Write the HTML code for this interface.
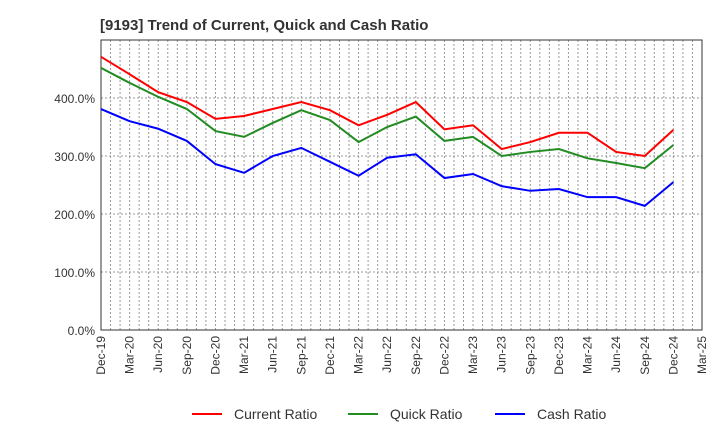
<!DOCTYPE html>
<html><head><meta charset="utf-8"><style>
body{margin:0;background:#fff;font-family:"Liberation Sans",Arial,sans-serif}
svg text{font-family:"Liberation Sans",Arial,sans-serif}
</style></head><body>
<svg id="c" width="720" height="440" viewBox="0 0 720 440">
<text x="100" y="30" font-size="15" font-weight="bold" fill="#333">[9193]  Trend of Current, Quick and Cash Ratio</text>
<g id="grid"></g><g id="axes"></g><g id="lines"></g>
<g>
<g><line x1="192" y1="414" x2="222" y2="414" stroke="#f00" stroke-width="2"/><text x="234" y="419" font-size="14" fill="#333">Current Ratio</text></g>
<g><line x1="348" y1="414" x2="378" y2="414" stroke="#228b22" stroke-width="2"/><text x="390" y="419" font-size="14" fill="#333">Quick Ratio</text></g>
<g><line x1="495" y1="414" x2="525" y2="414" stroke="#00f" stroke-width="2"/><text x="537" y="419" font-size="14" fill="#333">Cash Ratio</text></g>
</g>
</svg>
<script>
const categories=["Dec-19","Mar-20","Jun-20","Sep-20","Dec-20","Mar-21","Jun-21","Sep-21","Dec-21","Mar-22","Jun-22","Sep-22","Dec-22","Mar-23","Jun-23","Sep-23","Dec-23","Mar-24","Jun-24","Sep-24","Dec-24","Mar-25"];
const currentRatio=[471,441,410,393,364,369,381,393,379,353,371,393,346,353,312,324,340,340,307,300,345];
const quickRatio=[452,426,402,381,343,333,357,379,362,324,350,368,326,333,300,307,312,296,288,279,319];
const cashRatio=[381,360,347,326,286,271,300,314,290,266,297,303,262,269,248,240,243,229,229,214,255];
const yTicks=[0,100,200,300,400];
const X0=101,X1=702,Y0=330,PX=0.58,TOP=40;
const step=(X1-X0)/(categories.length-1);
const xs=i=>X0+i*step, ys=v=>Y0-v*PX;
const NS="http://www.w3.org/2000/svg";
function mk(t,a,p){const e=document.createElementNS(NS,t);for(const k in a)e.setAttribute(k,a[k]);p.appendChild(e);return e;}
const grid=document.getElementById('grid'),axes=document.getElementById('axes'),lines=document.getElementById('lines');
for(let m=1;m<(categories.length-1)*3;m++){const x=X0+m*step/3;
const l=mk('line',{x1:x,y1:TOP,x2:x,y2:Y0,stroke:'#999','stroke-dasharray':'2,2','stroke-width':1},grid);

}
yTicks.forEach(v=>{const y=ys(v);
if(v>0){const g=mk('line',{x1:X0,y1:y,x2:X1,y2:y,stroke:'#999','stroke-dasharray':'2,2'},grid);

}
const t=mk('text',{x:X0-6,y:y+5,'text-anchor':'end','font-size':12,fill:'#333'},axes);t.textContent=v.toFixed(1)+'%';

});
const r=mk('rect',{x:X0,y:TOP,width:X1-X0,height:Y0-TOP,fill:'none',stroke:'#333'},axes);


categories.forEach((c,i)=>{const x=xs(i);
const t=mk('text',{x:x+4,y:Y0+6,'text-anchor':'end','font-size':12,fill:'#333',transform:`rotate(-90 ${x+4} ${Y0+6})`},axes);t.textContent=c;

});
[[currentRatio,'#f00','current-ratio-line'],[quickRatio,'#228b22','quick-ratio-line'],[cashRatio,'#00f','cash-ratio-line']].forEach(([d,col,n])=>{
const p=mk('polyline',{points:d.map((v,i)=>xs(i)+','+ys(v)).join(' '),fill:'none',stroke:col,'stroke-width':2},lines);

});
</script>
</body></html>
